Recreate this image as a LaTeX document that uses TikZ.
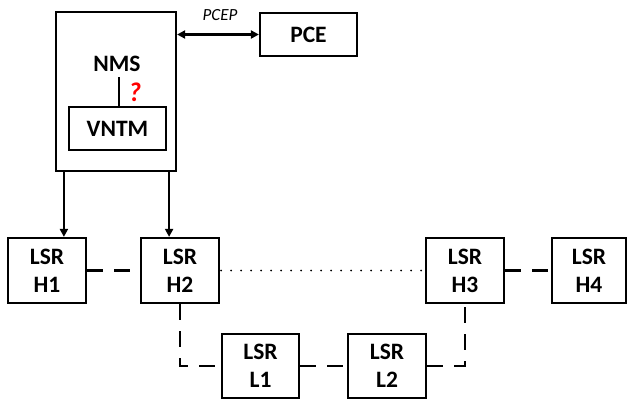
\documentclass[tikz,border=0pt]{standalone}
\usepackage{fontspec}
\setmainfont{Carlito}
\usetikzlibrary{arrows.meta,calc}
\begin{document}
\begin{tikzpicture}[x=1pt,y=-1pt,
  box/.style={draw,line width=2.2pt,inner sep=0pt,align=center,font=\fontsize{23.5}{28}\selectfont\bfseries},
  lsr/.style={box,minimum width=78pt,minimum height=65pt},
  arr/.style={line width=2.4pt,-{Triangle[length=8pt,width=8pt]}},
  darr/.style={line width=2.4pt,{Triangle[length=8pt,width=8pt]}-{Triangle[length=8pt,width=8pt]}},
  dlink/.style={line width=2.2pt,dash pattern=on 16pt off 11pt},
  dotlink/.style={line width=2pt,line cap=round,dash pattern=on 0pt off 10pt}]
\useasboundingbox (0,0) rectangle (627,400);
\node[box,minimum width=120pt,minimum height=159pt] (nms) at (116,91.5) {};
\node[font=\fontsize{23.5}{28}\selectfont\bfseries] (nmsl) at (117,64) {NMS};
\node[box,minimum width=97pt,minimum height=43pt] (vntm) at (117.5,128.5) {VNTM};
\node[box,minimum width=97pt,minimum height=43pt] (pce) at (308.5,34.5) {PCE};
\node[lsr] (h1) at (47,270.5) {LSR\\H1};
\node[lsr] (h2) at (180,270.5) {LSR\\H2};
\node[lsr] (h3) at (465,270.5) {LSR\\H3};
\node[lsr,minimum width=74pt] (h4) at (589,270.5) {LSR\\H4};
\node[lsr,minimum width=77pt,minimum height=64pt] (l1) at (260.5,366) {LSR\\L1};
\node[lsr,minimum height=64pt] (l2) at (387,366) {LSR\\L2};
% NMS - VNTM
\draw[line width=2.2pt] ([xshift=2pt]nmsl.south |- 0,77) coordinate (q0) -- (q0 |- vntm.north);
\node[text=red,font=\fontsize{27}{30}\selectfont\bfseries\itshape] (qm) at (135,92) {?};
% PCEP
\draw[darr] (nms.east |- pce.west) -- (pce.west);
\node[font=\fontsize{17}{20}\selectfont\itshape] (pcep) at (220,15) {PCEP};
% NMS to LSRs
\draw[arr] ([xshift=9pt]nms.south west) -- ([xshift=9pt]nms.south west |- h1.north);
\draw[arr] ([xshift=-8pt]nms.south east) -- ([xshift=-8pt]nms.south east |- h2.north);
% links
\draw[dlink] (h1.east) -- (h2.west);
\draw[dlink] (h2.south) |- (l1.west);
\draw[dlink] (l1.east) -- (l2.west);
\draw[dlink] (l2.east) -| (h3.south);
\draw[dlink] (h3.east) -- (h4.west);
\draw[dotlink,shorten <=1pt] (h2.east) -- (h3.west);
\end{tikzpicture}
\end{document}
